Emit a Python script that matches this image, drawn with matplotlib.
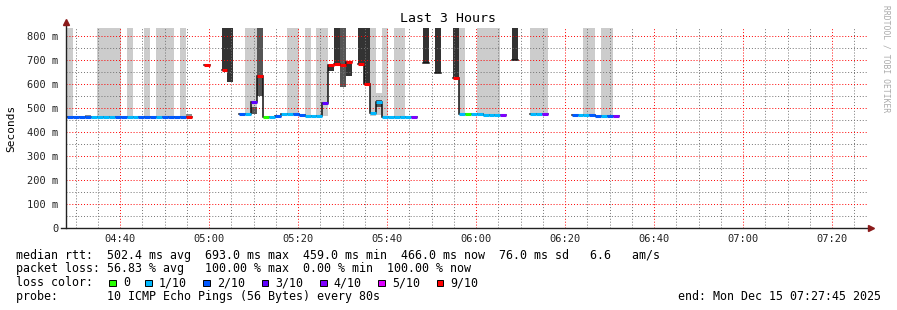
import matplotlib
matplotlib.use('Agg')
import matplotlib.pyplot as plt
import numpy as np
from matplotlib.patches import Rectangle

plt.rcParams['font.family'] = 'DejaVu Sans Mono'

W, H = 897, 310

# time in minutes after 04:00, one rrd step = 80 s
t_start = 27.75    # 04:27:45
t_end = 207.75     # 07:27:45
first_step = 28.15
step = 80 / 60

nan = np.nan
# median rtt of each step (ms), nan = no data
median = [461, 461, 461, 461, 461, 461, 461, 461, 461, 461,
          461, 461, 461, 461, 461, 463, 461, 461, 461, 461,
          461, nan, nan, 678, nan, nan, 660, nan, nan, 475,
          475, 525, 634, 461, 461, 465, 475, 475, 475, 472,
          468, 468, 468, 520, 680, 685, 678, 693, nan, 683,
          600, 479, 526, 461, 461, 461, 461, 461, 461, nan,
          689, nan, 647, nan, nan, 625, 475, 475, 475, 475,
          470, 470, 470, 470, nan, 698, nan, nan, 475, 475,
          475, nan, nan, nan, nan, 473, 473, 473, 473, 467,
          467, 467, 467]
# lost pings (of 10) per step, -1 = no loss colour drawn
loss = [2, 2, 2, 2, 1, 1, 1, 1, 2, 2,
        1, 1, 2, 2, 2, 1, 2, 2, 2, 2,
        9, -1, -1, 9, -1, -1, 9, -1, -1, 2,
        1, 3, 9, 0, 1, 2, 1, 1, 2, 2,
        1, 1, 1, 3, 9, 9, 9, 9, -1, 9,
        9, 1, 1, 1, 1, 1, 1, 1, 4, -1,
        -1, -1, -1, -1, -1, 9, 1, 0, 1, 1,
        1, 1, 1, 4, -1, -1, -1, -1, 1, 1,
        4, -1, -1, -1, -1, 2, 1, 1, 2, 2,
        1, 2, 4]

# smoke bands: step, low ping, high ping (ms), shade level
smoke_step = [0, 3, 5, 6, 7, 8, 10, 13, 15, 16, 17, 19, 20,
              26, 27, 30, 31, 31, 32, 37, 38, 40, 42, 43,
              44, 45, 46, 47, 49, 50, 51, 52, 52, 53, 55, 56,
              60, 62, 65, 66, 69, 70, 71, 72, 75, 78, 79, 79, 80,
              87, 88, 90, 91]
smoke_lo = [461, 461, 461, 461, 461, 461, 461, 461, 463, 461, 461, 461, 461,
            660, 608, 475, 475, 475, 550, 475, 475, 468, 468, 468,
            654, 685, 587, 633, 683, 600, 465, 470, 505, 461, 461, 461,
            689, 647, 625, 475, 475, 470, 470, 470, 698, 475, 475, 475, 475,
            473, 473, 467, 467]
smoke_hi = [900, 470, 900, 900, 900, 900, 900, 900, 900, 900, 900, 900, 475,
            900, 900, 900, 900, 505, 900, 900, 900, 900, 900, 900,
            680, 900, 900, 693, 900, 900, 900, 561, 535, 900, 900, 900,
            900, 900, 900, 900, 900, 900, 900, 900, 900, 900, 900, 481, 900,
            900, 900, 900, 900]
smoke_shade = [1, 2, 1, 1, 1, 1, 1, 1, 1, 1, 1, 1, 2,
               4, 4, 1, 1, 3, 3, 1, 1, 1, 1, 1,
               4, 4, 3, 4, 4, 4, 1, 1, 3, 1, 1, 1,
               4, 4, 4, 1, 1, 1, 1, 1, 4, 1, 1, 2, 1,
               1, 1, 1, 1]

loss_colors = {0: '#26ff00', 1: '#00b8ff', 2: '#0059ff', 3: '#5e00ff',
               4: '#7e00ff', 5: '#dd00ff', 9: '#ff0000'}
shade_colors = {1: '#cccccc', 2: '#8c8c8c', 3: '#555555', 4: '#333333'}

fig = plt.figure(figsize=(W / 100, H / 100), dpi=100)
ax = fig.add_axes([65.5 / W, 1 - 228.3 / H, 801 / W, 200.3 / H])


def px(x, y):
    return x / W, 1 - y / H


n = len(median)
edges = first_step + np.arange(n + 1) * step

# smoke
for k, lo, hi, s in zip(smoke_step, smoke_lo, smoke_hi, smoke_shade):
    ax.bar(edges[k], hi - lo, bottom=lo, width=step, align='edge',
           color=shade_colors[s], linewidth=0, zorder=1)

# median as black stair line
xs, ys = [], []
for k in range(n):
    xs += [edges[k], edges[k + 1]]
    ys += [median[k], median[k]]
ax.plot(xs, ys, color='#111111', lw=1.1, zorder=3, solid_joinstyle='miter')

# loss coloured median
for k in range(n):
    if loss[k] >= 0 and not np.isnan(median[k]):
        ax.hlines(median[k], edges[k], edges[k + 1], color=loss_colors[loss[k]],
                  lw=2.2, zorder=4, capstyle='butt')

ax.set_xlim(t_start, t_end)
ax.set_ylim(0, 833)

major_x = np.arange(40, 201, 20)
ax.set_xticks(major_x)
ax.set_xticklabels(['%02d:%02d' % (4 + m // 60, m % 60) for m in major_x])
ax.set_xticks(np.arange(30, 206, 5), minor=True)
ax.set_yticks(np.arange(0, 801, 100))
ax.set_yticklabels(['0'] + ['%d m' % v for v in range(100, 801, 100)])
ax.set_yticks(np.arange(50, 801, 100), minor=True)

ax.set_axisbelow(False)
ax.grid(which='minor', color=(0.45, 0.45, 0.45, 0.3), linestyle=(0, (1, 2)), lw=0.7)
ax.grid(which='major', color=(1.0, 0.0, 0.0, 0.25), linestyle=(0, (1, 2)), lw=0.7)
ax.tick_params(which='both', length=0, labelsize=7.5, colors='#222222')
ax.tick_params(axis='y', pad=5)
ax.tick_params(axis='x', pad=4)

for sp in ax.spines.values():
    sp.set_visible(False)
# axes with arrows
ax.plot([0, 0], [0, 1.025], color='#222222', lw=1, transform=ax.transAxes, clip_on=False, zorder=5)
ax.plot([-0.005, 1.004], [0, 0], color='#222222', lw=1, transform=ax.transAxes, clip_on=False, zorder=5)
ax.plot([0], [1.03], marker='^', ms=4, color='#8b1a1a', transform=ax.transAxes, clip_on=False, zorder=6)
ax.plot([1.005], [0], marker='>', ms=4, color='#8b1a1a', transform=ax.transAxes, clip_on=False, zorder=6)

ax.set_facecolor('white')

fig.text(*px(448, 19), 'Last 3 Hours', ha='center', va='center', fontsize=9.5)
fig.text(*px(11, 128), 'Seconds', ha='center', va='center', rotation=90, fontsize=8)
fig.text(*px(886, 5), 'RRDTOOL / TOBI OETIKER', ha='center', va='top', rotation=270,
         fontsize=5.8, color='#aaaaaa')

fs = 8.4
fig.text(*px(16, 255), 'median rtt:  502.4 ms avg  693.0 ms max  459.0 ms min  '
         '466.0 ms now  76.0 ms sd   6.6   am/s', va='center', fontsize=fs)
fig.text(*px(16, 268.5), 'packet loss: 56.83 % avg   100.00 % max  0.00 % min  '
         '100.00 % now', va='center', fontsize=fs)
fig.text(*px(16, 282.5), 'loss color:', va='center', fontsize=fs)
fig.text(*px(16, 296.5), 'probe:       10 ICMP Echo Pings (56 Bytes) every 80s',
         va='center', fontsize=fs)
fig.text(*px(881, 296.5), 'end: Mon Dec 15 07:27:45 2025', ha='right', va='center', fontsize=fs)

# loss colour legend
legend_labels = ['0', '1/10', '2/10', '3/10', '4/10', '5/10', '9/10']
legend_keys = [0, 1, 2, 3, 4, 5, 9]
swatch_x = [109.3, 145, 203.3, 261.7, 320, 378.3, 436.5]
for lab, key, sx in zip(legend_labels, legend_keys, swatch_x):
    x0, y0 = px(sx, 286)
    fig.patches.append(Rectangle((x0, y0), 6.5 / W, 6.5 / H, transform=fig.transFigure,
                                 facecolor=loss_colors[key], edgecolor='black', lw=0.7))
    fig.text(*px(sx + 13.5, 282.5), lab, va='center', fontsize=fs)

fig.savefig('out.png', dpi=100)
